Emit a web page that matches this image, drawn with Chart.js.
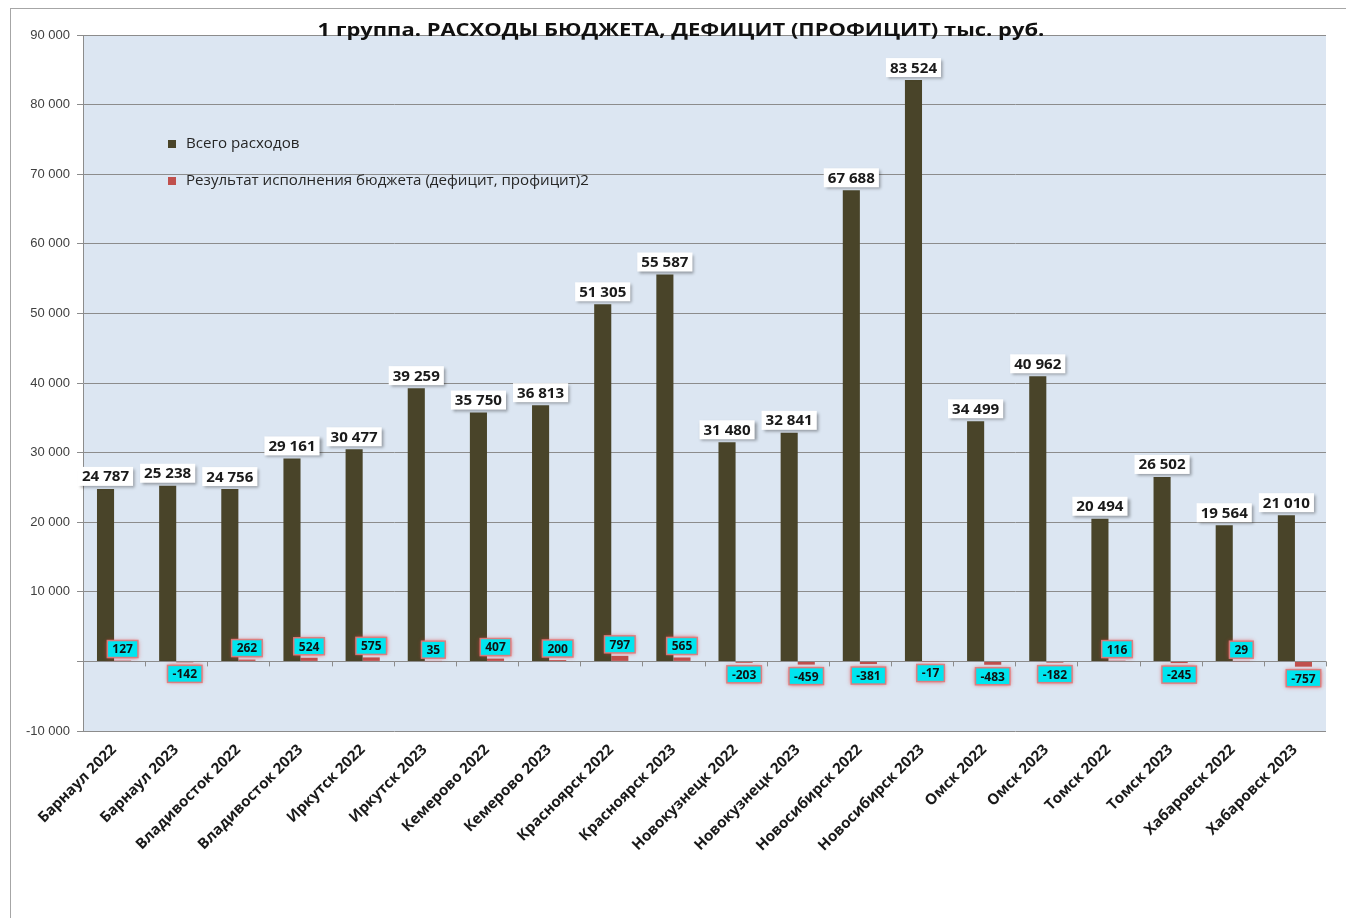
<!DOCTYPE html>
<html><head><meta charset="utf-8">
<script src="https://cdn.jsdelivr.net/npm/chart.js@4/dist/chart.umd.min.js"></script>
<style>
html,body{margin:0;padding:0;background:#fff;overflow:hidden;}
#frame{position:absolute;left:10px;top:8px;width:1400px;height:1000px;border-left:1px solid #a6a6a6;border-top:1px solid #a6a6a6;}
#wrap{position:absolute;left:0;top:0;width:1346px;height:918px;}
</style></head><body>
<div id="frame"></div>
<div id="wrap"><canvas id="c" width="1346" height="918"></canvas></div>
<script>
const chartTitle = '1 группа. РАСХОДЫ БЮДЖЕТА, ДЕФИЦИТ (ПРОФИЦИТ) тыс. руб.';
const categories = ['Барнаул 2022','Барнаул 2023','Владивосток 2022','Владивосток 2023','Иркутск 2022','Иркутск 2023','Кемерово 2022','Кемерово 2023','Красноярск 2022','Красноярск 2023','Новокузнецк 2022','Новокузнецк 2023','Новосибирск 2022','Новосибирск 2023','Омск 2022','Омск 2023','Томск 2022','Томск 2023','Хабаровск 2022','Хабаровск 2023'];
const seriesNames = ['Всего расходов','Результат исполнения бюджета (дефицит, профицит)2'];
const totalExpenses = [24787,25238,24756,29161,30477,39259,35750,36813,51305,55587,31480,32841,67688,83524,34499,40962,20494,26502,19564,21010];
const budgetResult = [127,-142,262,524,575,35,407,200,797,565,-203,-459,-381,-17,-483,-182,116,-245,29,-757];
const yMin = -10000, yMax = 90000, yStep = 10000;

function fmt(v){
  const s = Math.abs(Math.round(v)).toString().replace(/\B(?=(\d{3})+(?!\d))/g,' ');
  return (v<0?'-':'') + s;
}

const bgPlugin = {
  id:'bg',
  beforeDraw(chart){
    const {ctx, chartArea:a} = chart;
    ctx.save();
    ctx.fillStyle = '#dce6f2';
    ctx.fillRect(a.left, a.top, a.right-a.left, a.bottom-a.top);
    ctx.restore();
  }
};

function stretchedText(ctx, text, x, y, sx, align){
  ctx.save();
  ctx.translate(x, y);
  ctx.scale(sx, 1);
  ctx.textAlign = align;
  ctx.fillText(text, 0, 0);
  ctx.restore();
}

const decoPlugin = {
  id:'deco',
  afterDatasetsDraw(chart){
    const {ctx} = chart;
    const xs = chart.scales.x, ys = chart.scales.y;
    const zeroY = ys.getPixelForValue(0);
    ctx.save();
    ctx.strokeStyle = '#8c8c8c'; ctx.lineWidth = 1;
    const n = categories.length;
    const cw = (xs.right - xs.left)/n;
    for(let i=0;i<=n;i++){
      const x = Math.round(xs.left + i*cw)+0.5;
      ctx.beginPath(); ctx.moveTo(x, zeroY); ctx.lineTo(x, zeroY+5); ctx.stroke();
    }
    const m0 = chart.getDatasetMeta(0);
    ctx.font = 'bold 14px "Open Sans"';
    ctx.textBaseline = 'middle';
    const sx0 = 1.08;
    m0.data.forEach((el,i)=>{
      const t = fmt(totalExpenses[i]);
      const w = ctx.measureText(t).width*sx0 + 8, h = 19;
      const cx = el.x, cy = el.y - 3 - h/2;
      ctx.save();
      ctx.shadowColor = 'rgba(0,0,0,0.35)'; ctx.shadowOffsetX = 2; ctx.shadowOffsetY = 2; ctx.shadowBlur = 3;
      ctx.fillStyle = '#ffffff';
      ctx.fillRect(cx-w/2, cy-h/2, w, h);
      ctx.restore();
      ctx.fillStyle = '#1a1a1a';
      stretchedText(ctx, t, cx, cy+1, sx0, 'center');
    });
    const m1 = chart.getDatasetMeta(1);
    ctx.font = 'bold 12px "Open Sans"';
    m1.data.forEach((el,i)=>{
      const v = budgetResult[i];
      const t = fmt(v);
      const w = ctx.measureText(t).width + 10, h = 17;
      const cx = el.x;
      const cy = v >= 0 ? el.y - 3 - h/2 : el.y + 3 + h/2;
      ctx.save();
      ctx.shadowColor = 'rgba(220,60,60,0.8)'; ctx.shadowBlur = 4;
      ctx.fillStyle = '#00e5ef';
      ctx.fillRect(cx-w/2, cy-h/2, w, h);
      ctx.restore();
      ctx.strokeStyle = 'rgba(230,120,120,0.9)'; ctx.lineWidth = 1.5;
      ctx.strokeRect(cx-w/2, cy-h/2, w, h);
      ctx.fillStyle = '#111111';
      ctx.textAlign = 'center';
      ctx.fillText(t, cx, cy+1);
    });
    ctx.restore();
  },
  afterDraw(chart){
    const {ctx, chartArea:a} = chart;
    ctx.save();
    ctx.font = 'bold 18px "Open Sans"';
    ctx.fillStyle = '#111111';
    ctx.textBaseline = 'alphabetic';
    stretchedText(ctx, chartTitle, chart.width/2 + 8, a.top + 1, 1.22, 'center');
    const colors = [chart.data.datasets[0].backgroundColor, chart.data.datasets[1].backgroundColor];
    ctx.font = '14px "Open Sans"';
    ctx.textBaseline = 'middle';
    seriesNames.forEach((s,i)=>{
      const y = a.top + 109 + i*37;
      const x = a.left + 85;
      ctx.fillStyle = colors[i];
      ctx.fillRect(x, y-4, 8, 8);
      ctx.fillStyle = '#262626';
      stretchedText(ctx, s, x + 18, y, 1.08, 'left');
    });
    ctx.restore();
  }
};

new Chart(document.getElementById('c'), {
  type:'bar',
  data:{
    labels: categories,
    datasets:[
      {label: seriesNames[0], data: totalExpenses, backgroundColor:'#494429', categoryPercentage:0.55, barPercentage:1.0},
      {label: seriesNames[1], data: budgetResult, backgroundColor:'#c0504d', categoryPercentage:0.55, barPercentage:1.0}
    ]
  },
  options:{
    responsive:false, animation:false,
    layout:{padding:{left:0, top:35, right:20, bottom:0}},
    plugins:{legend:{display:false}, title:{display:false}, tooltip:{enabled:false}},
    scales:{
      x:{
        offset:true,
        grid:{display:false}, border:{display:false},
        ticks:{minRotation:45, maxRotation:45, autoSkip:false, padding:2, color:'#1a1a1a', font:{family:'Open Sans', weight:'bold', size:15}},
        afterFit(s){ s.height = 187; }
      },
      y:{
        min:yMin, max:yMax,
        ticks:{stepSize:yStep, padding:7, color:'#404040', font:{family:'Liberation Sans', size:13}, callback:(v)=> v===0 ? '' : fmt(v)},
        grid:{color:'#8c8c8c', tickLength:6, lineWidth:1},
        border:{color:'#8c8c8c'},
        afterFit(s){ s.width = 83; }
      }
    }
  },
  plugins:[bgPlugin, decoPlugin]
});
</script>
</body></html>
